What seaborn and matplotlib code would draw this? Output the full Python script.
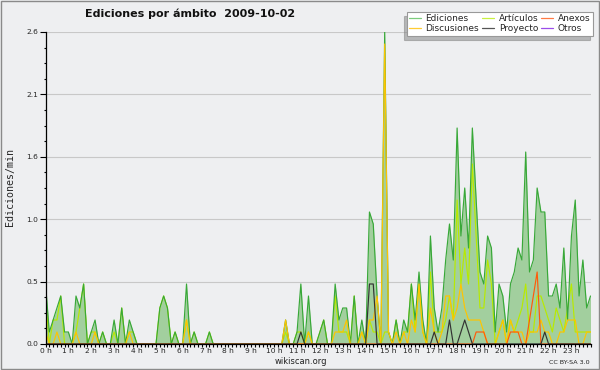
import numpy as np
import pandas as pd
import matplotlib
matplotlib.use("Agg")
import matplotlib.pyplot as plt
import seaborn as sns
from matplotlib.lines import Line2D
from matplotlib.patches import Rectangle

# ---------------- data (edits/min, 10-minute buckets, 2009-10-02) ----------------
hour_labels = [f"{h} h" for h in range(24)]

ediciones = [
    0.5, 0.1, 0.2, 0.3, 0.4, 0.1, 0.1, 0.0, 0.4, 0.3, 0.5, 0.0,
    0.1, 0.2, 0.0, 0.1, 0.0, 0.0, 0.2, 0.0, 0.3, 0.0, 0.2, 0.1,
    0.0, 0.0, 0.0, 0.0, 0.0, 0.0, 0.3, 0.4, 0.3, 0.0, 0.1, 0.0,
    0.0, 0.5, 0.0, 0.1, 0.0, 0.0, 0.0, 0.1, 0.0, 0.0, 0.0, 0.0,
    0.0, 0.0, 0.0, 0.0, 0.0, 0.0, 0.0, 0.0, 0.0, 0.0, 0.0, 0.0,
    0.0, 0.0, 0.0, 0.2, 0.0, 0.0, 0.1, 0.5, 0.0, 0.4, 0.0, 0.0,
    0.1, 0.2, 0.0, 0.0, 0.5, 0.2, 0.3, 0.3, 0.0, 0.4, 0.0, 0.2,
    0.0, 1.1, 1.0, 0.4, 0.0, 2.6, 0.1, 0.0, 0.2, 0.0, 0.2, 0.1,
    0.5, 0.2, 0.6, 0.2, 0.0, 0.9, 0.3, 0.1, 0.3, 0.7, 1.0, 0.7,
    1.8, 0.9, 1.3, 0.8, 1.8, 1.2, 0.6, 0.5, 0.9, 0.8, 0.1, 0.5,
    0.4, 0.1, 0.5, 0.6, 0.8, 0.7, 1.6, 0.6, 0.7, 1.3, 1.1, 1.1,
    0.4, 0.4, 0.5, 0.3, 0.8, 0.2, 0.9, 1.2, 0.4, 0.7, 0.3, 0.4,
]
articulos = [
    0.4, 0.0, 0.2, 0.2, 0.4, 0.0, 0.0, 0.0, 0.1, 0.3, 0.5, 0.0,
    0.1, 0.1, 0.0, 0.1, 0.0, 0.0, 0.1, 0.0, 0.3, 0.0, 0.1, 0.1,
    0.0, 0.0, 0.0, 0.0, 0.0, 0.0, 0.3, 0.4, 0.3, 0.0, 0.1, 0.0,
    0.0, 0.2, 0.0, 0.1, 0.0, 0.0, 0.0, 0.1, 0.0, 0.0, 0.0, 0.0,
    0.0, 0.0, 0.0, 0.0, 0.0, 0.0, 0.0, 0.0, 0.0, 0.0, 0.0, 0.0,
    0.0, 0.0, 0.0, 0.1, 0.0, 0.0, 0.1, 0.1, 0.0, 0.1, 0.0, 0.0,
    0.1, 0.2, 0.0, 0.0, 0.4, 0.1, 0.1, 0.1, 0.0, 0.4, 0.0, 0.1,
    0.0, 0.2, 0.1, 0.1, 0.0, 0.1, 0.1, 0.0, 0.2, 0.0, 0.1, 0.1,
    0.5, 0.1, 0.5, 0.1, 0.0, 0.6, 0.1, 0.1, 0.1, 0.2, 0.4, 0.2,
    1.2, 0.5, 0.8, 0.5, 1.5, 0.9, 0.3, 0.3, 0.7, 0.5, 0.0, 0.1,
    0.2, 0.0, 0.2, 0.1, 0.2, 0.3, 0.5, 0.1, 0.1, 0.4, 0.4, 0.3,
    0.2, 0.1, 0.3, 0.2, 0.1, 0.3, 0.5, 0.1, 0.1, 0.1, 0.1, 0.1,
]
discusiones = [
    0.1, 0.0, 0.0, 0.1, 0.0, 0.0, 0.0, 0.0, 0.1, 0.0, 0.0, 0.0,
    0.0, 0.1, 0.0, 0.0, 0.0, 0.0, 0.0, 0.0, 0.0, 0.0, 0.1, 0.0,
    0.0, 0.0, 0.0, 0.0, 0.0, 0.0, 0.0, 0.0, 0.0, 0.0, 0.0, 0.0,
    0.0, 0.2, 0.0, 0.0, 0.0, 0.0, 0.0, 0.0, 0.0, 0.0, 0.0, 0.0,
    0.0, 0.0, 0.0, 0.0, 0.0, 0.0, 0.0, 0.0, 0.0, 0.0, 0.0, 0.0,
    0.0, 0.0, 0.0, 0.2, 0.0, 0.0, 0.0, 0.0, 0.0, 0.1, 0.0, 0.0,
    0.0, 0.0, 0.0, 0.0, 0.1, 0.1, 0.1, 0.2, 0.0, 0.0, 0.0, 0.1,
    0.0, 0.2, 0.2, 0.4, 0.0, 2.5, 0.1, 0.0, 0.1, 0.0, 0.1, 0.0,
    0.2, 0.1, 0.5, 0.1, 0.0, 0.3, 0.1, 0.0, 0.1, 0.4, 0.4, 0.2,
    0.3, 0.5, 0.3, 0.2, 0.2, 0.2, 0.2, 0.1, 0.0, 0.0, 0.0, 0.1,
    0.2, 0.0, 0.2, 0.1, 0.1, 0.1, 0.0, 0.1, 0.1, 0.1, 0.2, 0.1,
    0.1, 0.0, 0.0, 0.1, 0.1, 0.2, 0.2, 0.2, 0.0, 0.0, 0.1, 0.1,
]
proyecto = [
    0.0, 0.0, 0.0, 0.0, 0.0, 0.0, 0.0, 0.0, 0.0, 0.0, 0.0, 0.0,
    0.0, 0.0, 0.0, 0.0, 0.0, 0.0, 0.0, 0.0, 0.0, 0.0, 0.0, 0.0,
    0.0, 0.0, 0.0, 0.0, 0.0, 0.0, 0.0, 0.0, 0.0, 0.0, 0.0, 0.0,
    0.0, 0.0, 0.0, 0.0, 0.0, 0.0, 0.0, 0.0, 0.0, 0.0, 0.0, 0.0,
    0.0, 0.0, 0.0, 0.0, 0.0, 0.0, 0.0, 0.0, 0.0, 0.0, 0.0, 0.0,
    0.0, 0.0, 0.0, 0.0, 0.0, 0.0, 0.0, 0.1, 0.0, 0.0, 0.0, 0.0,
    0.0, 0.0, 0.0, 0.0, 0.0, 0.0, 0.0, 0.0, 0.0, 0.0, 0.0, 0.0,
    0.0, 0.5, 0.5, 0.0, 0.0, 0.0, 0.0, 0.0, 0.0, 0.0, 0.0, 0.0,
    0.0, 0.0, 0.0, 0.0, 0.0, 0.0, 0.1, 0.0, 0.0, 0.0, 0.2, 0.0,
    0.0, 0.1, 0.2, 0.1, 0.0, 0.0, 0.0, 0.0, 0.0, 0.0, 0.0, 0.0,
    0.0, 0.0, 0.0, 0.0, 0.0, 0.0, 0.0, 0.0, 0.0, 0.0, 0.0, 0.1,
    0.0, 0.0, 0.0, 0.0, 0.0, 0.0, 0.0, 0.0, 0.0, 0.0, 0.0, 0.0,
]
anexos = [
    0.0, 0.0, 0.0, 0.0, 0.0, 0.0, 0.0, 0.0, 0.0, 0.0, 0.0, 0.0,
    0.0, 0.0, 0.0, 0.0, 0.0, 0.0, 0.0, 0.0, 0.0, 0.0, 0.0, 0.0,
    0.0, 0.0, 0.0, 0.0, 0.0, 0.0, 0.0, 0.0, 0.0, 0.0, 0.0, 0.0,
    0.0, 0.0, 0.0, 0.0, 0.0, 0.0, 0.0, 0.0, 0.0, 0.0, 0.0, 0.0,
    0.0, 0.0, 0.0, 0.0, 0.0, 0.0, 0.0, 0.0, 0.0, 0.0, 0.0, 0.0,
    0.0, 0.0, 0.0, 0.0, 0.0, 0.0, 0.0, 0.0, 0.0, 0.0, 0.0, 0.0,
    0.0, 0.0, 0.0, 0.0, 0.0, 0.0, 0.0, 0.0, 0.0, 0.0, 0.0, 0.0,
    0.0, 0.0, 0.0, 0.0, 0.0, 0.0, 0.0, 0.0, 0.0, 0.0, 0.0, 0.0,
    0.0, 0.0, 0.0, 0.0, 0.0, 0.0, 0.0, 0.0, 0.0, 0.0, 0.0, 0.0,
    0.0, 0.0, 0.0, 0.0, 0.0, 0.1, 0.1, 0.1, 0.0, 0.0, 0.0, 0.0,
    0.0, 0.0, 0.1, 0.1, 0.1, 0.0, 0.0, 0.2, 0.4, 0.6, 0.0, 0.0,
    0.0, 0.0, 0.0, 0.0, 0.0, 0.0, 0.0, 0.0, 0.0, 0.0, 0.0, 0.0,
]
otros = [0.0] * 144

colors = {
    "Ediciones": "#38a838",
    "Artículos": "#b8ea00",
    "Anexos": "#ff5a0a",
    "Discusiones": "#ffc400",
    "Proyecto": "#333333",
    "Otros": "#9a4dea",
}
legend_colors = {
    "Ediciones": "#7ccc7c",
    "Artículos": "#c8f040",
    "Anexos": "#ff7a44",
    "Discusiones": "#ffcc33",
    "Proyecto": "#555555",
    "Otros": "#9a4dea",
}

# ---------------- build frame ----------------
n = len(ediciones)
t = np.arange(n) / 6.0
df = pd.DataFrame({
    "t": t,
    "Ediciones": ediciones,
    "Artículos": articulos,
    "Anexos": anexos,
    "Discusiones": discusiones,
    "Proyecto": proyecto,
    "Otros": otros,
})
long = df.melt(id_vars="t", var_name="serie", value_name="v")

sns.set_style("white")
plt.rcParams["font.family"] = ["DejaVu Sans"]

BG = "#eeeff1"
W, H = 600, 370
fig = plt.figure(figsize=(6, 3.7), dpi=100, facecolor=BG)
ax = fig.add_axes([45.5 / W, 26 / H, 545 / W, 312 / H])
ax.set_facecolor(BG)

ax.fill_between(df["t"], 0, df["Ediciones"], color="#a2cf9e", lw=0, zorder=1)
draw_order = ["Otros", "Artículos", "Ediciones", "Discusiones", "Anexos", "Proyecto"]
sns.lineplot(data=long, x="t", y="v", hue="serie", hue_order=draw_order,
             palette=colors, legend=False, ax=ax, linewidth=0.85,
             estimator=None, errorbar=None, zorder=2)

ax.set_xlim(0, t[-1])
ax.set_ylim(0, 2.6)
ax.set_xlabel("")
ax.set_ylabel("")

ax.set_xticks(np.arange(24))
ax.set_xticklabels(hour_labels)
ax.set_xticks(t, minor=True)
yt = np.linspace(0, 2.6, 6)
ax.set_yticks(yt)
ax.set_yticklabels([f"{v:.1f}" for v in yt])
ax.set_yticks(np.arange(0, 2.6001, 0.13), minor=True)

ax.tick_params(axis="x", which="both", direction="out", length=2.2, width=0.8,
               color="black", pad=0.6, labelsize=5.4, bottom=True)
ax.tick_params(axis="y", which="major", direction="out", length=4.3, width=0.8,
               color="black", pad=0.8, labelsize=5.4, left=True)
ax.tick_params(axis="y", which="minor", direction="out", length=1.6, width=0.8,
               color="black", left=True)

ax.yaxis.grid(True, which="major", color="#c8c8c8", lw=0.8)
ax.set_axisbelow(True)
for s in ["top", "right"]:
    ax.spines[s].set_visible(False)
for s in ["left", "bottom"]:
    ax.spines[s].set_color("black")
    ax.spines[s].set_linewidth(0.9)
    ax.spines[s].set_zorder(5)

# ---------------- texts ----------------
fig.text(85 / W, 1 - 14 / H, "Ediciones por ámbito  2009-10-02",
         fontsize=8, fontweight="bold", ha="left", va="center", color="#111111")
fig.text(10 / W, 1 - 187 / H, "Ediciones/min", rotation=90,
         family="DejaVu Sans Mono", fontsize=7.2, ha="center", va="center")
fig.text(301 / W, 1 - 362 / H, "wikiscan.org", fontsize=6.0,
         ha="center", va="center", color="#222222")
fig.text(569 / W, 1 - 362 / H, "CC BY-SA 3.0", fontsize=4.6,
         ha="center", va="center", color="#222222")

# ---------------- legend ----------------
leg_order = ["Ediciones", "Discusiones", "Artículos", "Proyecto", "Anexos", "Otros"]
handles = [Line2D([], [], color=legend_colors[k], lw=0.9) for k in leg_order]
leg = fig.legend(handles, leg_order, loc="upper right",
                 bbox_to_anchor=(593 / W, 1 - 11.7 / H), bbox_transform=fig.transFigure,
                 ncol=3, fontsize=6.5, frameon=True, fancybox=False,
                 shadow={"ox": -2.2, "oy": -3.0, "shade": 0.5},
                 borderpad=0.3, labelspacing=0.1, handlelength=1.3,
                 handletextpad=0.5, columnspacing=0.35, borderaxespad=0)
leg.get_frame().set_facecolor("white")
leg.get_frame().set_edgecolor("#999999")
leg.get_frame().set_linewidth(0.8)
leg.get_frame().set_alpha(1)

# frame around the image
fig.patches.append(Rectangle((0.5 / W, 1.5 / H), 1 - 1.5 / W, 1 - 2.5 / H,
                             transform=fig.transFigure, fill=False,
                             edgecolor="#8a8a8a", lw=1.0))

fig.savefig("out.png", dpi=100, facecolor=BG)
